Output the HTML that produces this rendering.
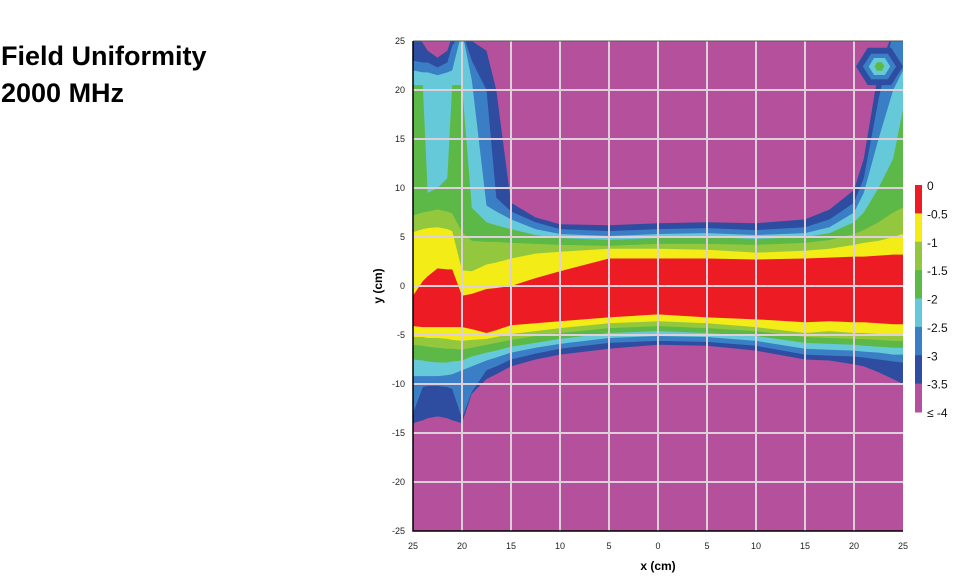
<!DOCTYPE html>
<html><head><meta charset="utf-8"><style>
body{margin:0;background:#fff;width:965px;height:585px;overflow:hidden;font-family:"Liberation Sans",sans-serif}
.t{position:absolute;left:1px;font-weight:bold;font-size:27px;line-height:30px;color:#000}
</style></head><body>
<div class="t" style="top:41px">Field Uniformity</div>
<div class="t" style="top:78px">2000 MHz</div>
<svg id="chart" width="965" height="585" style="position:absolute;left:0;top:0"></svg>
<script>
const xs=[-25,-24,-23.5,-22.5,-21.5,-21,-20,-19,-17.5,-16.5,-15,-12.5,-10,-5,0,5,10,15,17.5,20,21,22.5,24,25];
const levels=[-3.5,-3,-2.5,-2,-1.5,-1,-0.5];
const T35=[26,24.8,24,23.3,24,25.5,26,25,24,20,8.5,7,6.3,6.2,6.4,6.5,6.4,6.8,7.8,9.8,13,22,26,26];
const T30=[23,22.8,22.8,22.3,22.8,24.5,26,23,20,9,7.6,6.5,5.8,5.6,5.8,5.9,5.7,6,6.8,8.5,11,19,26,26];
const T25=[22,21.8,21.8,21.5,21.8,22,26,21,8.2,7.6,6.8,5.8,5.3,5.1,5.3,5.4,5.2,5.4,6,7.5,9.5,15,20,22];
const T20=[20.5,20.5,9.5,10,11,20.5,20.5,8,6.5,6.2,5.8,5.2,4.9,4.7,4.9,5,4.8,5,5.4,6.5,7.5,10,13,18];
const T15=[7.2,7.5,7.6,7.8,7.6,7.4,5.5,4.6,4.5,4.5,4.4,4.3,4.2,4.1,4.3,4.3,4.2,4.4,4.7,5.3,5.7,6.5,7.5,8];
const T10=[5.5,5.8,5.9,6,5.8,5.6,1.6,1.5,2.2,2.4,2.8,3.3,3.5,3.8,3.8,3.7,3.4,3.6,3.8,4.2,4.4,4.6,5,5.3];
const T05=[-1,0.5,1,1.8,1.7,1.7,-1,-0.8,-0.3,-0.2,0,0.8,1.5,2.8,2.8,2.8,2.7,2.8,2.9,3,3,3.1,3.2,3.2];
const B05=[-4.1,-4.2,-4.2,-4.2,-4.2,-4.2,-4.2,-4.4,-4.8,-4.5,-4.0,-3.8,-3.6,-3.2,-2.9,-3.2,-3.4,-3.7,-3.6,-3.7,-3.7,-3.8,-3.9,-3.9];
const B10=[-5.2,-5.2,-5.3,-5.3,-5.4,-5.5,-5.6,-5.5,-5.4,-5.2,-4.9,-4.6,-4.3,-3.8,-3.6,-3.8,-4.2,-4.8,-4.6,-4.8,-4.8,-4.9,-5,-5];
const B15=[-6,-6.1,-6.2,-6.3,-6.4,-6.4,-6.5,-6.3,-6,-5.8,-5.5,-5.1,-4.8,-4.3,-4.1,-4.3,-4.6,-5.2,-5.3,-5.4,-5.4,-5.5,-5.6,-5.6];
const B20=[-7.5,-7.6,-7.7,-7.8,-7.8,-7.7,-7.6,-7.2,-6.8,-6.6,-6.2,-5.8,-5.4,-4.8,-4.6,-4.8,-5.1,-5.8,-5.9,-6,-6.1,-6.2,-6.3,-6.3];
const B25=[-9.2,-9.2,-9.2,-9.2,-9.1,-9,-8.6,-8.2,-7.6,-7.3,-6.8,-6.3,-5.9,-5.3,-5.1,-5.2,-5.6,-6.4,-6.5,-6.6,-6.7,-6.8,-7,-7];
const B30=[-13,-10.3,-10.2,-10.2,-10.3,-10.5,-13.5,-10.8,-8.6,-8.2,-7.5,-6.9,-6.4,-5.8,-5.6,-5.7,-6.1,-7,-7.1,-7.2,-7.3,-7.5,-7.7,-7.8];
const B35=[-14,-13.7,-13.5,-13.3,-13.5,-13.7,-14,-11,-9.5,-9,-8.2,-7.5,-7,-6.4,-6,-6.1,-6.6,-7.5,-7.6,-8,-8.2,-8.8,-9.5,-10];
const tops=[T35,T30,T25,T20,T15,T10,T05];
const bottoms=[B35,B30,B25,B20,B15,B10,B05];
const blobCenter=[22.6,22.4];
const blobRx=[2.4,1.7,1.1,0.5];
const blobRy=[2.2,1.5,1.0,0.5];
const bandColors=["#b5509c","#2f4da0","#3a7fc5","#66c9da","#5cb947","#93c83e","#f3ec17","#ed1c24"];
const ticks=[-25,-20,-15,-10,-5,0,5,10,15,20,25];
const legendLabels=["0","-0.5","-1","-1.5","-2","-2.5","-3","-3.5","≤ -4"];

const NS="http://www.w3.org/2000/svg";
const svg=document.getElementById('chart');
const L=413,R=903,TP=41,BT=531;
const sx=x=>L+(x+25)/50*(R-L);
const sy=y=>TP+(25-y)/50*(BT-TP);
function mk(tag,attrs,parent){const e=document.createElementNS(NS,tag);for(const k in attrs)e.setAttribute(k,attrs[k]);(parent||svg).appendChild(e);return e;}

const defs=mk('defs',{});
const cp=mk('clipPath',{id:'pc'},defs);
mk('rect',{x:L,y:TP,width:R-L,height:BT-TP},cp);
const g=mk('g',{'clip-path':'url(#pc)'});
const bg=mk('rect',{x:L,y:TP,width:R-L,height:BT-TP,fill:bandColors[0]},g);


for(let i=0;i<levels.length;i++){
  let pts=[];
  xs.forEach((x,j)=>pts.push(sx(x)+','+sy(tops[i][j])));
  for(let j=xs.length-1;j>=0;j--)pts.push(sx(xs[j])+','+sy(bottoms[i][j]));
  const p=mk('polygon',{points:pts.join(' '),fill:bandColors[i+1]},g);
  
  
}
for(let k=0;k<blobRx.length;k++){
  let pts=[];
  for(let a=0;a<6;a++){const t=a*Math.PI/3;pts.push(sx(blobCenter[0]+blobRx[k]*Math.cos(t))+','+sy(blobCenter[1]+blobRy[k]*Math.sin(t)));}
  const p=mk('polygon',{points:pts.join(' '),fill:bandColors[k+1]},g);
  
  
}
ticks.forEach(v=>{
  if(v>-25&&v<25){
    const a=mk('line',{x1:sx(v),x2:sx(v),y1:TP,y2:BT,stroke:'#ddd0db','stroke-width':2});
    
    
    const b=mk('line',{x1:L,x2:R,y1:sy(v),y2:sy(v),stroke:'#ddd0db','stroke-width':2});
    
    
  }
  const tx=mk('text',{x:sx(v),y:549,'font-size':9,'text-anchor':'middle',fill:'#222'});
  tx.textContent=String(Math.abs(v));
  
  
  const ty=mk('text',{x:405,y:sy(v)+3,'font-size':9,'text-anchor':'end',fill:'#222'});
  ty.textContent=String(v);
  
  
});
const fr=mk('path',{d:`M${L},${TP} L${L},${BT} L${R},${BT}`,stroke:'#000','stroke-width':1.5,fill:'none'});


const ft=mk('line',{x1:L,x2:R,y1:TP,y2:TP,stroke:'#555','stroke-width':1});


const xt=mk('text',{x:658,y:570,'font-size':12,'font-weight':'bold','text-anchor':'middle'});
xt.textContent='x (cm)';


const yt=mk('text',{x:0,y:0,'font-size':12,'font-weight':'bold','text-anchor':'middle',transform:'translate(382,286) rotate(-90)'});
yt.textContent='y (cm)';


const cb0=185,cbH=227/8;
for(let i=0;i<8;i++){
  const r=mk('rect',{x:915,y:cb0+i*cbH,width:7,height:cbH+0.5,fill:bandColors[7-i]});
  
  
}
legendLabels.forEach((s,i)=>{
  const t=mk('text',{x:927,y:cb0+i*cbH+5,'font-size':12,fill:'#111'});
  t.textContent=s;
  
  
});
</script>
</body></html>
